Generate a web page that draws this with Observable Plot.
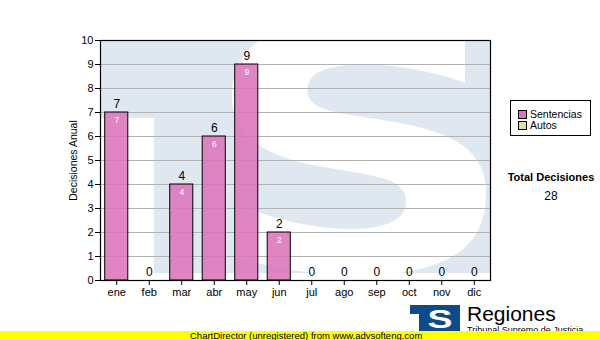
<!DOCTYPE html>
<html><head><meta charset="utf-8">
<script src="https://cdn.jsdelivr.net/npm/d3@7"></script>
<script src="https://cdn.jsdelivr.net/npm/@observablehq/plot@0.6"></script>
<style>
body{margin:0;background:#fff;font-family:"Liberation Sans",Arial,sans-serif;}
#wrap{position:relative;width:600px;height:340px;overflow:hidden;}
#wrap svg{position:absolute;left:0;top:0;}
.legend{position:absolute;left:510px;top:100px;width:79px;height:34px;border:1px solid #000;background:#fff;font-size:10.5px;}
.legend .it{position:absolute;left:7px;height:12px;line-height:12px;white-space:nowrap;}
.legend .sw{display:inline-block;width:7px;height:7px;border:1px solid #000;vertical-align:-1px;margin-right:3px;}
.total{position:absolute;left:500px;width:102px;text-align:center;}
.band{position:absolute;left:0;top:331px;width:600px;height:9px;background:#ffff00;font-size:9.5px;line-height:9px;}
.band span{position:absolute;left:190px;top:0;white-space:nowrap;}
.reg{position:absolute;left:467px;top:302px;font-size:21px;white-space:nowrap;}
.reg2{position:absolute;left:467px;top:325px;font-size:9px;white-space:nowrap;}
</style></head><body><div id="wrap"></div>
<script>
const months = ["ene","feb","mar","abr","may","jun","jul","ago","sep","oct","nov","dic"];
const sentencias = [7,0,4,6,9,2,0,0,0,0,0,0];
const autos = [0,0,0,0,0,0,0,0,0,0,0,0];
const seriesNames = ["Sentencias","Autos"];
const seriesColors = ["#dc74ba","#d8e6a0"];
const yTicks = [0,1,2,3,4,5,6,7,8,9,10];
const yLabel = "Decisiones Anual";
const totalLabel = "Total Decisiones";

const rows = months.map((m,i)=>({mes:m, Sentencias:sentencias[i], Autos:autos[i], total:sentencias[i]+autos[i]}));
const long = [];
months.forEach((m,i)=>{ long.push({mes:m, serie:"Sentencias", value:sentencias[i]}); long.push({mes:m, serie:"Autos", value:autos[i]}); });
const grand = d3.sum(rows, d=>d.total);

// decorative watermark (logo) behind the plot area
function watermark(index, scales, values, dim) {
  const L = dim.marginLeft, T = dim.marginTop, R = dim.width - dim.marginRight, B = dim.height - dim.marginBottom;
  const w = R - L, h = B - T;
  const blue = "#dfe8f1";
  const g = d3.create("svg:g");
  const id = "wmclip";
  g.append("clipPath").attr("id", id).append("rect").attr("x", L).attr("y", T).attr("width", w).attr("height", h);
  const c = g.append("g").attr("clip-path", `url(#${id})`);
  c.append("rect").attr("x", L).attr("y", T).attr("width", w).attr("height", h).attr("fill", "#fff");
  c.append("rect").attr("x", L).attr("y", T).attr("width", w).attr("height", h * 0.971).attr("fill", blue);
  c.append("rect").attr("x", L).attr("y", T + h * 0.325).attr("width", w * 0.139).attr("height", h).attr("fill", "#fff");
  c.append("text").text("S")
    .attr("transform", `translate(${L + w * 0.665},${T + h * 0.96}) scale(1.3,1)`)
    .attr("text-anchor", "middle")
    .attr("font-family", "DejaVu Sans, Verdana, sans-serif")
    .attr("font-weight", "bold")
    .attr("font-size", 340)
    .attr("fill", "#fff");
  c.append("rect").attr("x", L + w * 0.139).attr("y", T).attr("width", w * 0.131).attr("height", h * 0.971).attr("fill", blue);
  return g.node();
}

const chart = Plot.plot({
  width: 600, height: 340,
  marginLeft: 100, marginRight: 110, marginTop: 40, marginBottom: 60,
  style: {fontFamily: "Liberation Sans, Arial, sans-serif", fontSize: "11px", color: "#000", background: "transparent", overflow: "visible"},
  x: {domain: months, paddingInner: 0.29, paddingOuter: 0.145, round: false, label: null, axis: null},
  y: {domain: [0, 10], label: null, axis: null},
  color: {domain: seriesNames, range: seriesColors},
  marks: [
    watermark,
    Plot.gridY(yTicks, {stroke: "#b2b2b2", strokeOpacity: 1}),
    Plot.barY(long, Plot.stackY({x: "mes", y: "value", fill: "serie", fillOpacity: 0.88, stroke: "#000", strokeWidth: 1, filter: d => d.value > 0})),
    Plot.text(rows, {x: "mes", y: "total", text: d => String(d.total), dy: -8, fill: "#000", fontSize: 12}),
    Plot.text(rows.filter(d => d.Sentencias > 0), {x: "mes", y: "Sentencias", text: d => String(d.Sentencias), dy: 8, fill: "#fff", fontSize: 8.5}),
    Plot.frame({stroke: "#000", strokeWidth: 1.2}),
    Plot.axisX({tickSize: 5, tickPadding: 3, fontSize: 11, stroke: "#000"}),
    Plot.axisY(yTicks, {tickSize: 5, tickPadding: 2, fontSize: 11, stroke: "#000"}),
    Plot.text([yLabel], {frameAnchor: "left", textAnchor: "middle", dx: -27, rotate: -90, text: d => d, fontSize: 10.5, fill: "#000"})
  ]
});

const wrap = document.getElementById("wrap");
wrap.appendChild(chart);

const leg = document.createElement("div");
leg.className = "legend";
seriesNames.forEach((s, i) => {
  const it = document.createElement("div");
  it.className = "it";
  it.style.top = (7 + i * 11) + "px";
  it.innerHTML = `<span class="sw" style="background:${seriesColors[i]}"></span>${s}`;
  leg.appendChild(it);
});
wrap.appendChild(leg);

const t1 = document.createElement("div");
t1.className = "total"; t1.style.top = "171px"; t1.style.fontWeight = "bold"; t1.style.fontSize = "11px";
t1.textContent = totalLabel; wrap.appendChild(t1);
const t2 = document.createElement("div");
t2.className = "total"; t2.style.top = "189px"; t2.style.fontSize = "12px";
t2.textContent = String(grand); wrap.appendChild(t2);

// logo
const logo = d3.create("svg").attr("width", 50).attr("height", 26);
logo.append("rect").attr("x", 0).attr("y", 0).attr("width", 50).attr("height", 9).attr("fill", "#0f4a8a");
logo.append("rect").attr("x", 9).attr("y", 0).attr("width", 41).attr("height", 26).attr("fill", "#0f4a8a");
logo.append("text").text("S").attr("x", 20).attr("y", 23).attr("text-anchor", "middle").attr("font-weight", "bold").attr("font-size", 25).attr("font-family", "Liberation Sans, Arial, sans-serif").attr("fill", "#fff").attr("transform", "scale(1.5,1)");
const lnode = logo.node(); lnode.style.position = "absolute"; lnode.style.left = "410px"; lnode.style.top = "305px";
wrap.appendChild(lnode);
const reg = document.createElement("div"); reg.className = "reg"; reg.textContent = "Regiones"; wrap.appendChild(reg);
const reg2 = document.createElement("div"); reg2.className = "reg2"; reg2.textContent = "Tribunal Supremo de Justicia"; wrap.appendChild(reg2);

const band = document.createElement("div"); band.className = "band";
band.innerHTML = "<span>ChartDirector (unregistered) from www.advsofteng.com</span>";
wrap.appendChild(band);
</script>
</body></html>
